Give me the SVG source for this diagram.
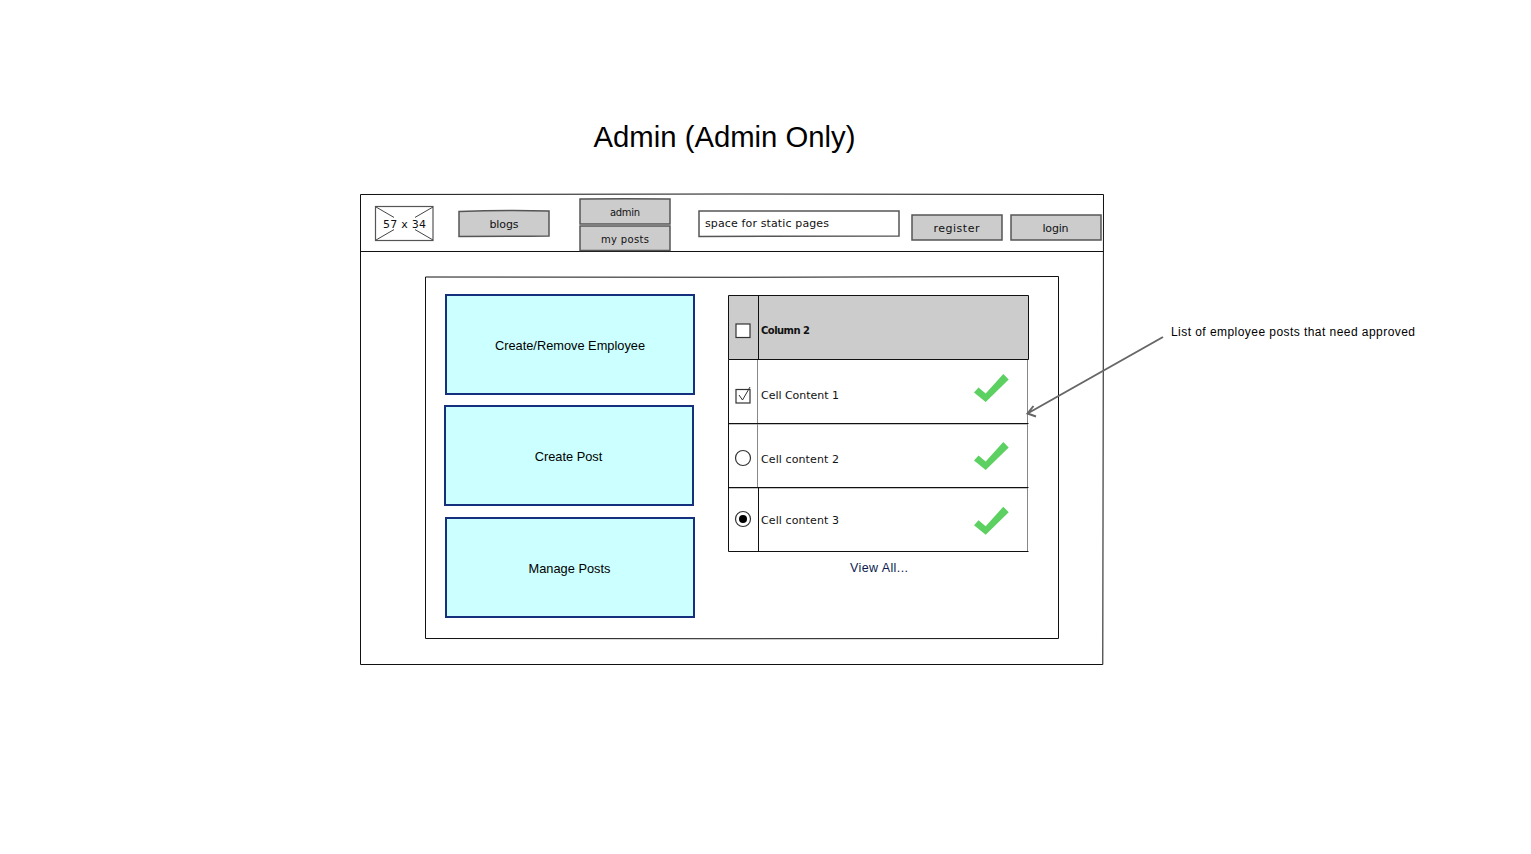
<svg xmlns="http://www.w3.org/2000/svg" width="1531" height="854" viewBox="0 0 1531 854">
<style>
text{font-family:"Liberation Sans",Arial,sans-serif;fill:#000}
.sk{font-family:"DejaVu Sans",sans-serif;font-size:11px;fill:#111}
.sm{font-size:10px}
.frame{fill:#fff;stroke:#111;stroke-width:1}
.btn{fill:#ccc;stroke:#555;stroke-width:1.5}
.blue{fill:#ccffff;stroke:#15317e;stroke-width:2}
.lab{font-size:12.8px;text-anchor:middle}
.rule{fill:none;stroke:#111;stroke-width:1}
.soft{fill:none;stroke:#888;stroke-width:1}
.ctl{fill:#fff;stroke:#333;stroke-width:1.2}
.tick{fill:#5cd161}
</style>
<defs>
<polygon id="chk" class="tick" points="974,392.5 978.500,387.500 985.700,393.500 1003.300,374 1008.700,379.500 985.700,402"/>
</defs>
<g id="title"><text x="724.500" y="147" font-size="29" text-anchor="middle" textLength="262" lengthAdjust="spacingAndGlyphs">Admin (Admin Only)</text></g>
<g id="browser-frame">
<path class="frame" d="M360.500 194.500Q730 193.500 1103.500 194.500L1102.800 664.500L360.500 664.500Z"/>
<path class="rule" d="M360.500 251.500H1103.500"/>
</g>
<g id="logo">
<rect x="375.500" y="206.500" width="57.500" height="34" fill="#fff" stroke="#555" stroke-width="1.200"/>
<path d="M376 207L433 240M433 207L376 240" fill="none" stroke="#444" stroke-width="1"/>
<rect x="394" y="217" width="21" height="15" fill="#fff"/>
<text class="sk" x="404.500" y="228" text-anchor="middle" textLength="43">57 x 34</text>
</g>
<g id="nav-blogs"><path class="btn" d="M459 211.500Q505 210 549 211L549 236Q505 236.500 459 236.500Z"/><text class="sk" x="504" y="228" text-anchor="middle" textLength="29">blogs</text></g>
<g id="nav-admin"><path class="btn" d="M580 199Q625 198.300 670 199L670 224H580Z"/><text class="sk sm" x="625" y="216" text-anchor="middle" textLength="30">admin</text></g>
<g id="nav-myposts"><path class="btn" d="M580 226H670L670 250.500H580Z"/><text class="sk sm" x="625" y="243" text-anchor="middle" textLength="48">my posts</text></g>
<g id="static-pages"><path d="M699 211H899L899 236Q800 236.500 699 236.500Z" fill="#fff" stroke="#555" stroke-width="1.500"/><text class="sk" x="705" y="227" textLength="124">space for static pages</text></g>
<g id="nav-register"><rect class="btn" x="912" y="215" width="90" height="25"/><text class="sk" x="956.500" y="232" text-anchor="middle" textLength="46">register</text></g>
<g id="nav-login"><rect class="btn" x="1011" y="215" width="90" height="25"/><text class="sk" x="1055.500" y="232" text-anchor="middle" textLength="26">login</text></g>
<g id="content-panel"><path class="frame" d="M425.500 277Q740 277.800 1058.500 276.500L1058.500 638.500Q740 639 425.500 638.500Z"/></g>
<g id="btn-employee"><rect class="blue" x="446" y="295" width="248" height="99"/><text class="lab" x="570" y="350">Create/Remove Employee</text></g>
<g id="btn-post"><rect class="blue" x="445" y="406" width="248" height="99"/><text class="lab" x="568.500" y="461">Create Post</text></g>
<g id="btn-manage"><rect class="blue" x="446" y="518" width="248" height="99"/><text class="lab" x="569.500" y="573">Manage Posts</text></g>
<g id="table">
<rect x="729" y="295.500" width="299.500" height="64" fill="#ccc"/>
<path class="soft" d="M1027.500 360V551M757.500 360V487M729 424H1027M729 488H1027"/>
<path class="rule" d="M728.500 295.500H1028.500V359.500H728.500ZM728.500 359.500V551.500H1028.500M728.500 423.500H1028.500M728.500 487.500H1028.500M758.500 295.500V359.500M758.500 487.500V551.500"/>
<rect class="ctl" x="736" y="324" width="14" height="13.500"/>
<text class="sk sm" x="761" y="334" font-weight="bold" textLength="49">Column 2</text>
<rect class="ctl" x="736" y="389.500" width="14" height="13.500"/>
<path d="M739 395L742.500 400L750 387" fill="none" stroke="#333" stroke-width="1"/>
<text class="sk" x="761" y="399" textLength="78">Cell Content 1</text>
<circle class="ctl" cx="743" cy="458" r="7.500"/>
<text class="sk" x="761" y="463" textLength="78">Cell content 2</text>
<circle class="ctl" cx="743" cy="519" r="7.500"/>
<circle cx="743" cy="519" r="4" fill="#000"/>
<text class="sk" x="761" y="524" textLength="78">Cell content 3</text>
<use href="#chk"/>
<use href="#chk" y="68"/>
<use href="#chk" y="132.700"/>
</g>
<g id="view-all"><text x="879" y="572" font-size="12.500" text-anchor="middle" style="fill:#0a1a50" textLength="58">View All...</text></g>
<g id="note"><text x="1171" y="336" font-size="12" textLength="244">List of employee posts that need approved</text></g>
<g id="connectors"><path d="M1163 337L1027.500 413.500M1033.500 406L1027.500 413.500L1036 416.500" fill="none" stroke="#666" stroke-width="2"/></g>
</svg>
